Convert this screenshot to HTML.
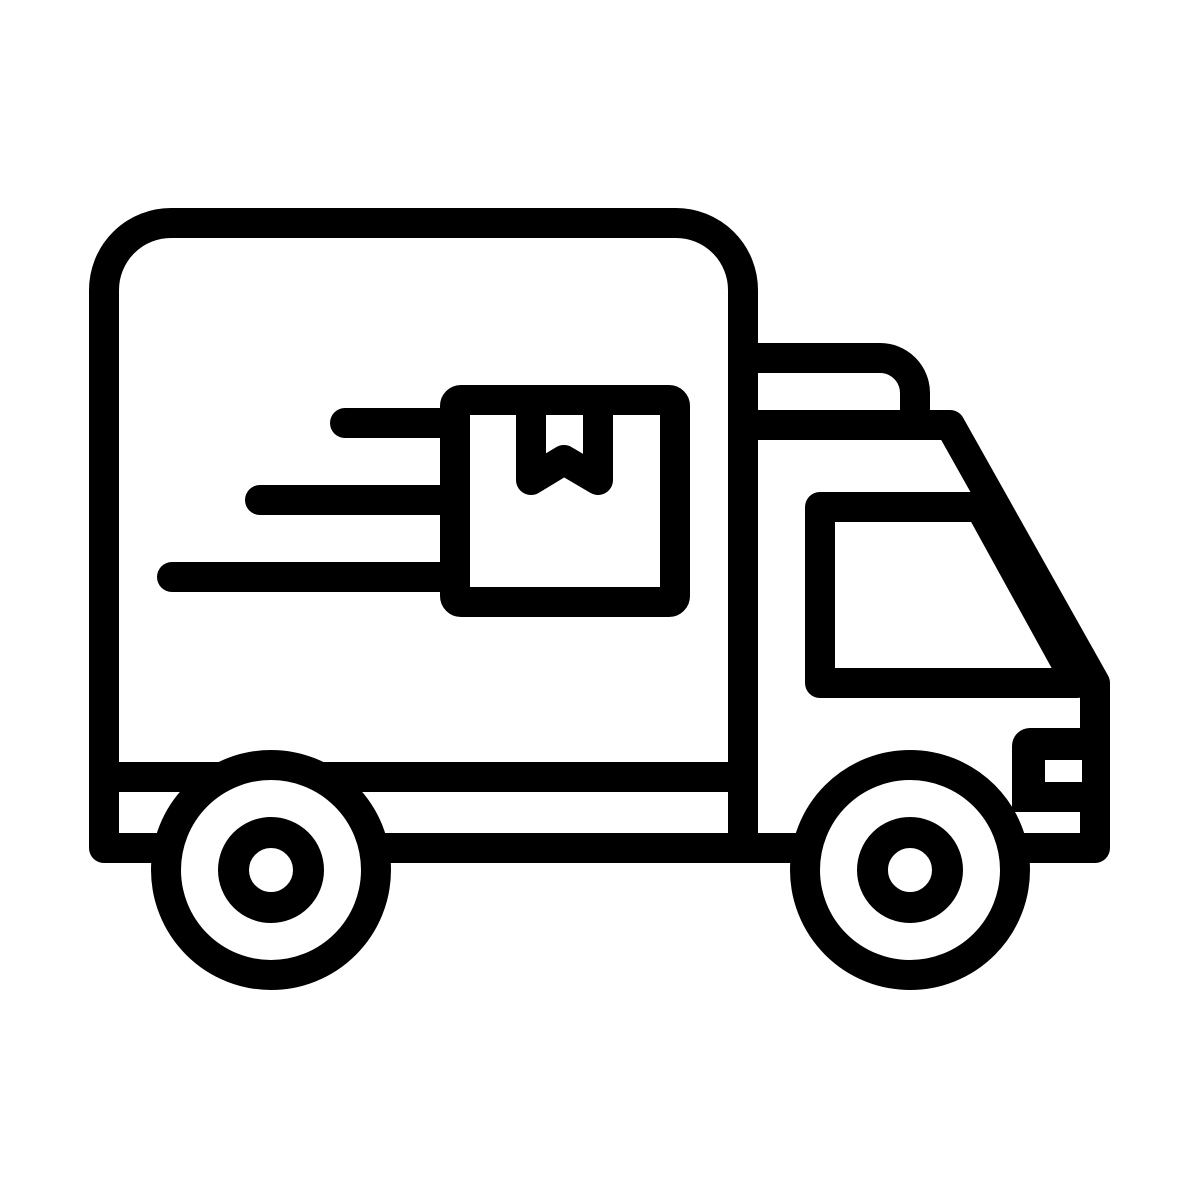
<!DOCTYPE html>
<html><head><meta charset="utf-8"><style>html,body{margin:0;padding:0;background:#fff;}svg{display:block}</style></head>
<body>
<svg width="1200" height="1200" viewBox="0 0 1200 1200" xmlns="http://www.w3.org/2000/svg">
<g fill="none" stroke="#000" stroke-width="30" stroke-linecap="round" stroke-linejoin="round">
  <!-- cargo box -->
  <path d="M104,848 V290 A67,67 0 0 1 171,223 H676 A67,67 0 0 1 743,290 V848" stroke-linecap="butt"/>
  <line x1="104" y1="777" x2="743" y2="777" stroke-linecap="butt"/>
  <path d="M104,760 V848 H1095 V700" stroke-linecap="butt"/>
  <!-- cab top -->
  <path d="M743,358 H880 A35,35 0 0 1 915,393 V425" stroke-linecap="butt"/>
  <path d="M743,425 H950 L1095,683 V848" stroke-linecap="butt"/>
  <!-- window -->
  <path d="M820,507 H980 L1077,683 H820 Z"/>
  <!-- speed lines -->
  <line x1="345" y1="423" x2="455" y2="423"/>
  <line x1="260" y1="500" x2="455" y2="500"/>
  <line x1="172" y1="577" x2="455" y2="577"/>
  <!-- package -->
  <rect x="455" y="400" width="220" height="202" rx="6" fill="#fff"/>
  <path d="M531,415 V480 L564,460 L598,480 V415"/>
</g>
<!-- headlight -->
<path d="M1030,728 H1082 V812 H1012 V746 A18,18 0 0 1 1030,728 Z" fill="#000"/>
<rect x="1045" y="760" width="37" height="22" fill="#fff"/>
<!-- wheels -->
<g stroke="#000" fill="#fff">
  <circle cx="271" cy="870" r="105" stroke-width="30"/>
  <circle cx="271" cy="870" r="37.5" stroke-width="31"/>
  <circle cx="910" cy="870" r="105" stroke-width="30"/>
  <circle cx="910" cy="870" r="37.5" stroke-width="31"/>
</g>
</svg>
</body></html>
